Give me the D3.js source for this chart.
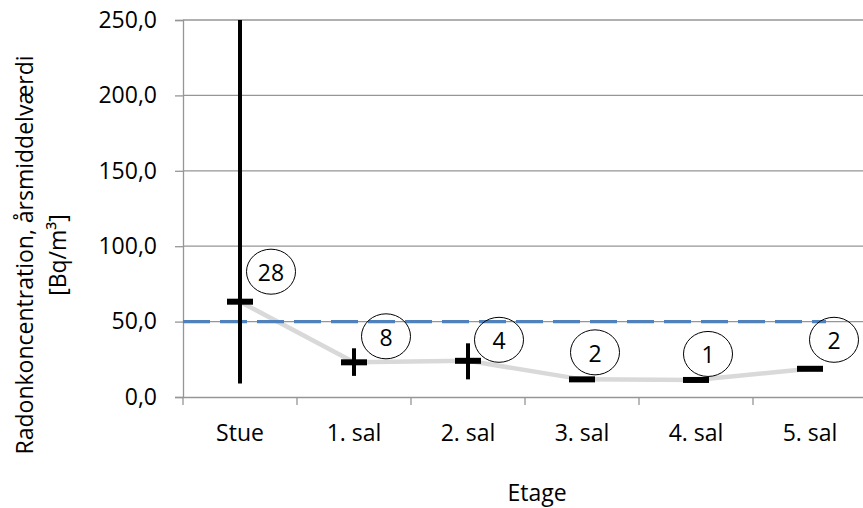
<!DOCTYPE html>
<html>
<head>
<meta charset="utf-8">
<script src="https://cdn.jsdelivr.net/npm/d3@7"></script>
<style>
  html, body { margin: 0; padding: 0; background: #fff; }
  svg { display: block; font-family: "Open Sans", "Liberation Sans", sans-serif; }
</style>
</head>
<body>
<svg id="chart" width="863" height="508"></svg>
<script>
// ---- data ----
const categories = ["Stue", "1. sal", "2. sal", "3. sal", "4. sal", "5. sal"];
const means      = [63.2, 23.0, 24.0, 11.7, 11.3, 18.7];
const errLow     = [9.0, 14.0, 11.7, null, null, null];
const errHigh    = [270.0, 32.3, 35.6, null, null, null];
const counts     = [28, 8, 4, 2, 1, 2];
const yTicks     = [0, 50, 100, 150, 200, 250];
const limitValue = 50;
const yTitleLines = ["Radonkoncentration, årsmiddelværdi", "[Bq/m³]"];
const xTitle = "Etage";

// ---- layout ----
const plot = { left: 183, right: 867, top: 20, bottom: 397 };
const labelOffsets = [[31, -30], [32, -26], [31, -21], [13, -27], [12, -26], [24, -29]];
const fontSize = 23;

const svg = d3.select("#chart");
const x = d3.scaleBand().domain(categories).range([plot.left, plot.right]).padding(0);
const y = d3.scaleLinear().domain([0, 250]).range([plot.bottom, plot.top]);
const cx = c => x(c) + x.bandwidth() / 2;
const fmt = v => d3.format(".1f")(v).replace(".", ",");

svg.append("defs").append("clipPath").attr("id", "clip")
  .append("rect").attr("x", plot.left).attr("y", plot.top)
  .attr("width", plot.right - plot.left).attr("height", plot.bottom - plot.top);

// gridlines
svg.append("g").selectAll("line").data(yTicks.filter(t => t > 0)).join("line")
  .attr("x1", plot.left).attr("x2", plot.right)
  .attr("y1", d => y(d)).attr("y2", d => y(d))
  .attr("stroke", "#969696").attr("stroke-width", 1.3);

// y axis
const yAxis = svg.append("g").attr("transform", `translate(${plot.left},0)`)
  .call(d3.axisLeft(y).tickValues(yTicks).tickSize(8).tickPadding(18).tickFormat(fmt));
yAxis.select(".domain").attr("stroke", "#969696").attr("stroke-width", 1.3);
yAxis.selectAll(".tick line").attr("stroke", "#969696").attr("stroke-width", 1.3);
yAxis.selectAll("text").attr("font-size", fontSize).attr("font-family", "Open Sans").attr("fill", "#000");

// x axis
const xAxis = svg.append("g").attr("transform", `translate(0,${plot.bottom})`)
  .call(d3.axisBottom(x).tickSize(0).tickPadding(27.5));
xAxis.select(".domain").attr("stroke", "#969696").attr("stroke-width", 1.3);
xAxis.selectAll("text").attr("font-size", fontSize).attr("font-family", "Open Sans").attr("fill", "#000");
const bounds = categories.map(c => x(c)).concat([plot.right]);
svg.append("g").selectAll("line").data(bounds).join("line")
  .attr("x1", d => d).attr("x2", d => d)
  .attr("y1", plot.bottom).attr("y2", plot.bottom + 8)
  .attr("stroke", "#969696").attr("stroke-width", 1.3);

const plotG = svg.append("g").attr("clip-path", "url(#clip)");

// mean connector line
plotG.append("path")
  .datum(categories.map((c, i) => [cx(c), y(means[i])]))
  .attr("d", d3.line())
  .attr("fill", "none").attr("stroke", "#d9d9d9").attr("stroke-width", 4.5);

// limit line at 50
const lastC = categories[categories.length - 1];
plotG.append("line")
  .attr("x1", plot.left).attr("x2", cx(lastC) + 0.14 * x.bandwidth())
  .attr("y1", y(limitValue)).attr("y2", y(limitValue))
  .attr("stroke", "#4f81bd").attr("stroke-width", 3.2)
  .attr("stroke-dasharray", "27 10");

// error bars
plotG.append("g").selectAll("line")
  .data(categories.map((c, i) => ({ c, lo: errLow[i], hi: errHigh[i] })).filter(d => d.lo !== null))
  .join("line")
  .attr("x1", d => cx(d.c)).attr("x2", d => cx(d.c))
  .attr("y1", d => y(d.lo)).attr("y2", d => y(d.hi))
  .attr("stroke", "#000").attr("stroke-width", 4);

// dash markers
plotG.append("g").selectAll("rect")
  .data(categories.map((c, i) => ({ c, v: means[i] })))
  .join("rect")
  .attr("x", d => cx(d.c) - 13).attr("y", d => y(d.v) - 3)
  .attr("width", 26).attr("height", 6).attr("fill", "#000");

// count labels in ellipses
const lab = svg.append("g").selectAll("g")
  .data(categories.map((c, i) => ({ c, v: means[i], n: counts[i], o: labelOffsets[i] })))
  .join("g")
  .attr("transform", d => `translate(${cx(d.c) + d.o[0]},${y(d.v) + d.o[1]})`);
lab.append("ellipse").attr("rx", 24.5).attr("ry", 22.5)
  .attr("fill", "none").attr("stroke", "#000").attr("stroke-width", 1);
lab.append("text").text(d => d.n)
  .attr("text-anchor", "middle").attr("dy", "0.36em").attr("y", 1)
  .attr("font-size", fontSize).attr("fill", "#000");

// axis titles
svg.append("text").attr("x", (plot.left + plot.right) / 2 + 12).attr("y", 501)
  .attr("text-anchor", "middle").attr("font-size", fontSize).text(xTitle);

const yt = svg.append("text").attr("transform", "translate(0,255) rotate(-90)")
  .attr("text-anchor", "middle").attr("font-size", fontSize);
yTitleLines.forEach((t, i) => {
  yt.append("tspan").attr("x", 0).attr("y", 33 + i * 33).text(t);
});
</script>
</body>
</html>
